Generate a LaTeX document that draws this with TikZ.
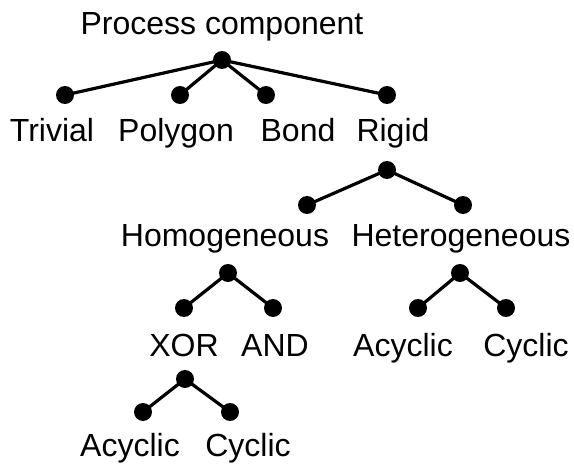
\documentclass[tikz,border=0pt]{standalone}
\usepackage{fontspec}
\setmainfont{Liberation Sans}
\begin{document}
\begin{tikzpicture}[x=1pt,y=-1pt,
  dot/.style={circle,fill=black,inner sep=0pt,minimum size=18pt},
  lbl/.style={anchor=base,inner sep=0pt,font=\fontsize{32}{36}\selectfont},
  edge/.style={line width=3.2pt}]
\useasboundingbox (0,0) rectangle (574,468);
% level 0
\node[lbl] (tRoot) at (222,35) {Process component};
\node[dot] (root) at (222,60) {};
% level 1
\node[dot] (dTriv) at (65,95) {};
\node[dot] (dPoly) at (180,95) {};
\node[dot] (dBond) at (266,95) {};
\node[dot] (dRig) at (387,95) {};
\node[lbl] (tTriv) at (52,142) {Trivial};
\node[lbl] (tPoly) at (176,142) {Polygon};
\node[lbl] (tBond) at (298,142) {Bond};
\node[lbl] (tRig) at (393,142) {Rigid};
% rigid
\node[dot] (rig) at (387,170) {};
\node[dot] (dHom) at (307,205) {};
\node[dot] (dHet) at (463,205) {};
\node[lbl] (tHom) at (225,247) {Homogeneous};
\node[lbl] (tHet) at (461,247) {Heterogeneous};
% homogeneous
\node[dot] (hom) at (228,273) {};
\node[dot] (dXor) at (184,308) {};
\node[dot] (dAnd) at (273,308) {};
\node[lbl] (tXor) at (184,357) {XOR};
\node[lbl] (tAnd) at (275,357) {AND};
% heterogeneous
\node[dot] (het) at (460,273) {};
\node[dot] (dAcy) at (418,308) {};
\node[dot] (dCyc) at (506,308) {};
\node[lbl] (tAcy) at (403,357) {Acyclic};
\node[lbl] (tCyc) at (526,357) {Cyclic};
% xor
\node[dot] (xor) at (185,379) {};
\node[dot] (dXAcy) at (143,412) {};
\node[dot] (dXCyc) at (230,412) {};
\node[lbl] (tXAcy) at (130,456) {Acyclic};
\node[lbl] (tXCyc) at (248,456) {Cyclic};
% edges
\foreach \a/\b in {root/dTriv,root/dPoly,root/dBond,root/dRig,
  rig/dHom,rig/dHet,hom/dXor,hom/dAnd,het/dAcy,het/dCyc,xor/dXAcy,xor/dXCyc}
  \draw[edge] (\a.center) -- (\b.center);
\end{tikzpicture}
\end{document}
